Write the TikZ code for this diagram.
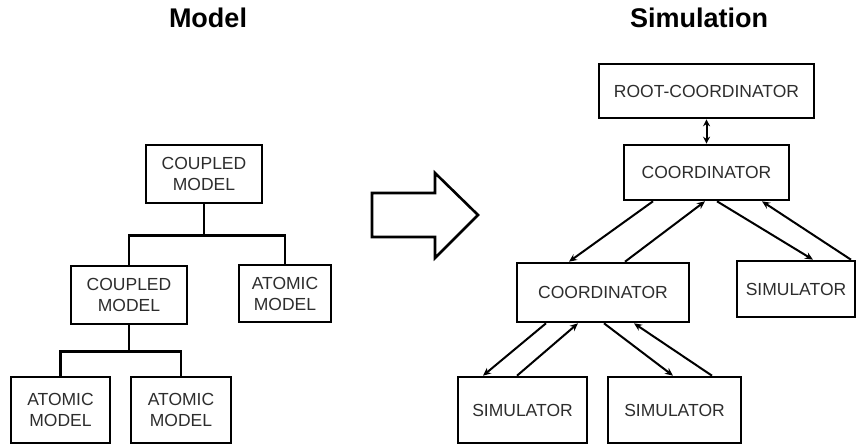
\documentclass[tikz,border=0pt]{standalone}
\usepackage{fontspec}
\setmainfont{Liberation Sans}
\usepackage{tikz}
\usetikzlibrary{arrows.meta, positioning}
\definecolor{boxtext}{RGB}{45,45,45}
\tikzset{
  blk/.style={rectangle, draw=black, line width=2.6pt, align=center,
    text=boxtext, inner sep=0pt, font=\fontsize{17.5}{21}\selectfont},
  ttl/.style={font=\fontsize{27}{32}\selectfont\bfseries, inner sep=0pt},
  tree/.style={line width=2.6pt},
  arrT/.style={-{Stealth[length=8pt,width=7pt]}, line width=2pt},
  arrD/.style={{Stealth[length=7pt,width=7pt]}-{Stealth[length=7pt,width=7pt]}, line width=2pt},
}
\begin{document}
\begin{tikzpicture}[x=1pt, y=-1pt]
  \useasboundingbox (0,0) rectangle (857,444);

  % titles
  \node[ttl] (tModel) at (208,18) {Model};
  \node[ttl] (tSim)   at (699,18) {Simulation};

  % model tree
  \node[blk, minimum width=116pt, minimum height=58pt] (cm1) at (204,174)   {COUPLED\\MODEL};
  \node[blk, minimum width=116pt, minimum height=58pt] (cm2) at (129,295)   {COUPLED\\MODEL};
  \node[blk, minimum width=92pt,  minimum height=57pt] (amR) at (285,293.5) {ATOMIC\\MODEL};
  \node[blk, minimum width=99pt,  minimum height=66pt] (amL) at (60.5,410)  {ATOMIC\\MODEL};
  \node[blk, minimum width=100pt, minimum height=66pt] (amM) at (181,410)   {ATOMIC\\MODEL};

  \draw[tree] (cm1.south) -- ++(0,31) coordinate (bar1);
  \draw[tree] (cm2.north) |- (bar1) -| (amR.north);
  \draw[tree] (cm2.south) -- ++(0,26) coordinate (bar2);
  \draw[tree] (amL.north) |- (bar2) -| (amM.north);

  % transformation arrow
  \draw[line width=2.6pt, line join=miter]
    (372,193) -- (435,193) -- (435,173) -- (478,215) -- (435,258)
    -- (435,237) -- (372,237) -- cycle;

  % simulation hierarchy
  \node[blk, minimum width=215pt, minimum height=54pt] (root) at (706.5,91)   {ROOT-COORDINATOR};
  \node[blk, minimum width=165pt, minimum height=55pt] (crd1) at (706.5,172.5) {COORDINATOR};
  \node[blk, minimum width=172pt, minimum height=59pt] (crd2) at (603,292.5)  {COORDINATOR};
  \node[blk, minimum width=118pt, minimum height=56pt] (simR) at (796,289)    {SIMULATOR};
  \node[blk, minimum width=129pt, minimum height=66pt] (simL) at (522.5,410)  {SIMULATOR};
  \node[blk, minimum width=133pt, minimum height=66pt] (simM) at (674.5,410)  {SIMULATOR};

  \draw[arrD] (root.south) -- (crd1.north);

  \draw[arrT] ([xshift=-53.5pt]crd1.south) -- ([xshift=-34pt]crd2.north);
  \draw[arrT] ([xshift=22pt]crd2.north)    -- ([xshift=-1.5pt]crd1.south);
  \draw[arrT] ([xshift=10.5pt]crd1.south)  -- ([xshift=17pt]simR.north);
  \draw[arrT] ([xshift=55pt]simR.north)    -- ([xshift=55.5pt]crd1.south);

  \draw[arrT] ([xshift=-57pt]crd2.south)   -- ([xshift=-39.5pt]simL.north);
  \draw[arrT] ([xshift=-5.5pt]simL.north)  -- ([xshift=-25pt]crd2.south);
  \draw[arrT] ([xshift=1pt]crd2.south)     -- ([xshift=-1.5pt]simM.north);
  \draw[arrT] ([xshift=37.5pt]simM.north)  -- ([xshift=31pt]crd2.south);
\end{tikzpicture}
\end{document}
